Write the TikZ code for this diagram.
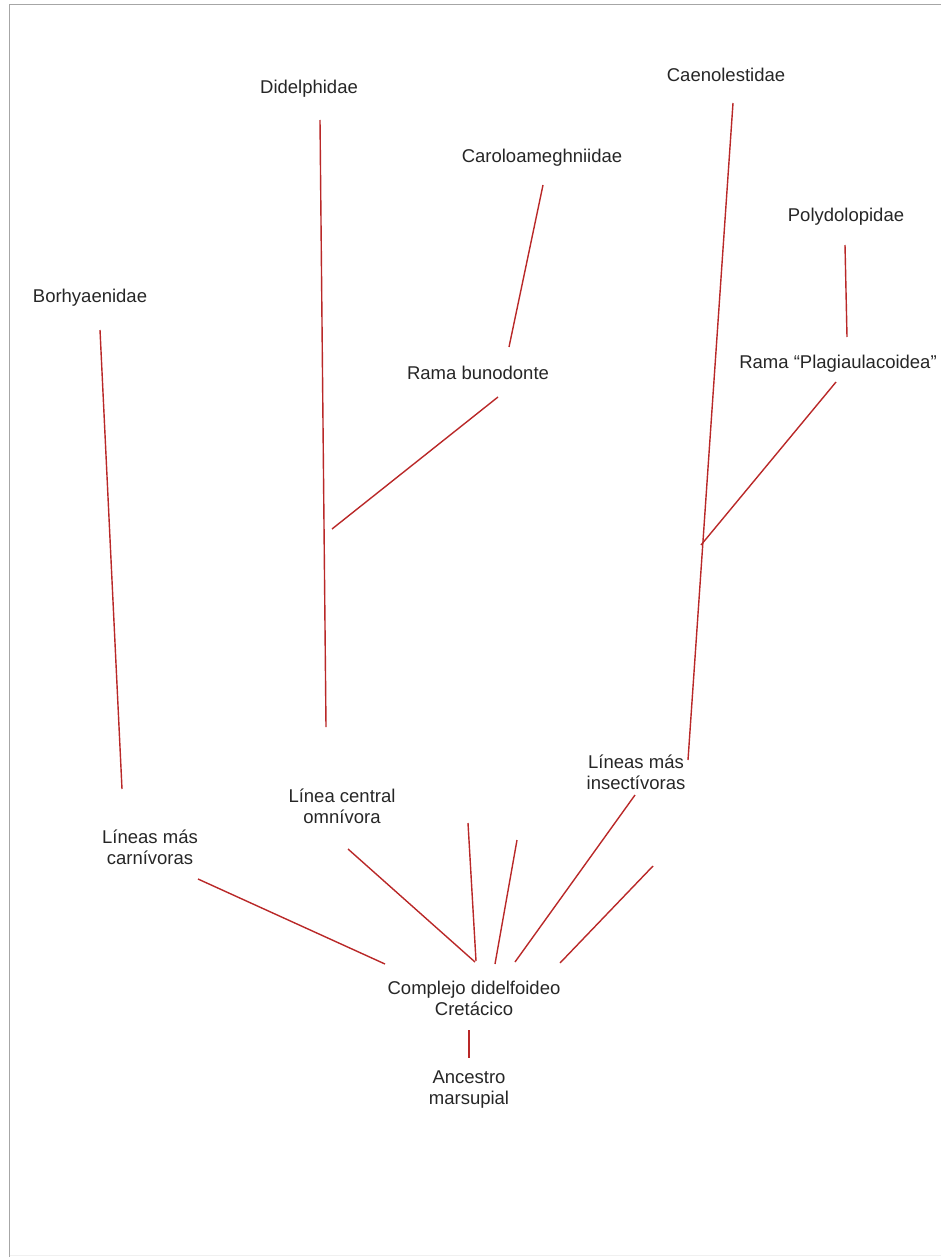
\documentclass[tikz,border=0pt]{standalone}
\usepackage{fontspec}
\setmainfont{Liberation Sans}
\definecolor{branchred}{RGB}{185,40,40}
\begin{document}
\begin{tikzpicture}[x=1pt,y=-1pt,
  lab/.style={inner sep=0pt,align=center,text=black!85,font=\fontsize{18.5}{21}\selectfont},
  br/.style={draw=branchred,line width=1.4pt},
  frame/.style={draw=black!35,line width=1.2pt}]
\useasboundingbox (0,0) rectangle (941,1257);
\draw[frame] (9.5,1257) -- (9.5,4.5) -- (941,4.5);
\draw[draw=black!6,line width=1pt] (9.5,1255) -- (941,1255);
% labels
\node[lab] (did) at (309,89) {Didelphidae};
\node[lab] (car) at (542,158) {Caroloameghniidae};
\node[lab] (cae) at (726,75) {Caenolestidae};
\node[lab] (pol) at (846,217) {Polydolopidae};
\node[lab] (bor) at (90,298) {Borhyaenidae};
\node[lab] (bun) at (478,373) {Rama bunodonte};
\node[lab] (pla) at (838,364) {Rama ``Plagiaulacoidea''};
\node[lab] (ins) at (636,772) {Líneas más\\insectívoras};
\node[lab] (omn) at (342,806) {Línea central\\omnívora};
\node[lab] (carn) at (150,847) {Líneas más\\carnívoras};
\node[lab] (cre) at (474,998) {Complejo didelfoideo\\Cretácico};
\node[lab] (anc) at (469,1090) {Ancestro\\marsupial};
% line end points
\coordinate (d1) at (320,120); \coordinate (d2) at (326,727);
\coordinate (c1) at (543,185); \coordinate (c2) at (509,347);
\coordinate (b1) at (498,397); \coordinate (b2) at (332,529);
\coordinate (e1) at (733,103); \coordinate (e2) at (688,760);
\coordinate (p1) at (845,245); \coordinate (p2) at (847,337);
\coordinate (q1) at (836,382); \coordinate (q2) at (701,545);
\coordinate (h1) at (100,330); \coordinate (h2) at (122,789);
\coordinate (k1) at (198,879); \coordinate (k2) at (385,964);
\coordinate (o1) at (348,849); \coordinate (o2) at (475,962);
\coordinate (v1) at (468,823); \coordinate (v2) at (476,961);
\coordinate (w1) at (517,840); \coordinate (w2) at (495,964);
\coordinate (i1) at (635,795); \coordinate (i2) at (515,962);
\coordinate (z1) at (653,866); \coordinate (z2) at (560,963);
\coordinate (a1) at (469,1030); \coordinate (a2) at (469,1058);
% branches
\draw[br] (d1) -- (d2);
\draw[br] (c1) -- (c2);
\draw[br] (b1) -- (b2);
\draw[br] (e1) -- (e2);
\draw[br] (p1) -- (p2);
\draw[br] (q1) -- (q2);
\draw[br] (h1) -- (h2);
\draw[br] (k1) -- (k2);
\draw[br] (o1) -- (o2);
\draw[br] (v1) -- (v2);
\draw[br] (w1) -- (w2);
\draw[br] (i1) -- (i2);
\draw[br] (z1) -- (z2);
\draw[br] (a1) -- (a2);
\end{tikzpicture}
\end{document}
